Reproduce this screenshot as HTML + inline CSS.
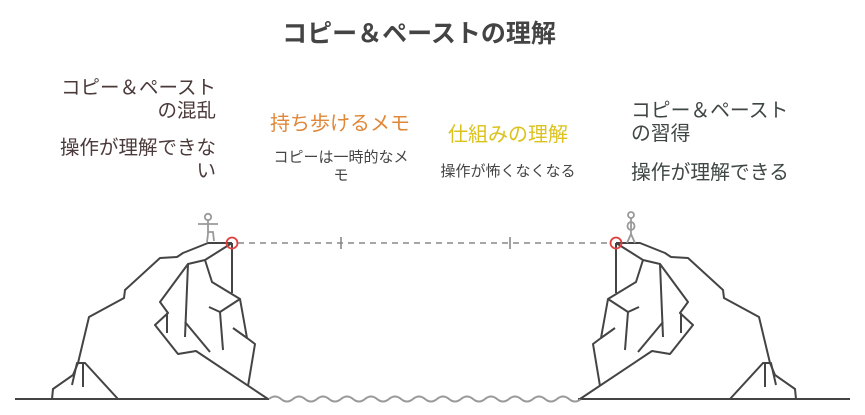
<!DOCTYPE html>
<html><head><meta charset="utf-8"><style>
html,body{margin:0;padding:0;background:#fff;}
svg{display:block;}
text{font-family:"Liberation Sans","Noto Sans CJK JP",sans-serif;}
</style></head><body>
<svg width="865" height="415" viewBox="0 0 865 415" xmlns="http://www.w3.org/2000/svg">
<text x="419" y="42" text-anchor="middle" font-size="25" font-weight="bold" fill="#444">コピー＆ペーストの理解</text>

<g font-size="19.5" fill="#4b3a3a" text-anchor="end">
<text x="216" y="94">コピー＆ペースト</text>
<text x="216" y="117">の混乱</text>
<text x="216" y="154">操作が理解できな</text>
<text x="216" y="177">い</text>
</g>
<text x="340" y="130" text-anchor="middle" font-size="20" fill="#e0883a">持ち歩けるメモ</text>
<g font-size="15" fill="#444" text-anchor="middle">
<text x="341" y="162">コピーは一時的なメ</text>
<text x="341" y="180">モ</text>
<text x="508" y="176">操作が怖くなくなる</text>
</g>
<text x="508" y="141" text-anchor="middle" font-size="20" fill="#dcc21c">仕組みの理解</text>
<g font-size="19.8" fill="#3e4744">
<text x="631" y="117">コピー＆ペースト</text>
<text x="631" y="140">の習得</text>
<text x="631" y="179">操作が理解できる</text>
</g>

<g stroke="#444" stroke-width="2" fill="none">
<line x1="15" y1="399" x2="269" y2="399"/>
<line x1="578" y1="399" x2="850" y2="399"/>
</g>
<path d="M269 399 q6 -5 12 0 t12 0 t12 0 t12 0 t12 0 t12 0 t12 0 t12 0 t12 0 t12 0 t12 0 t12 0 t12 0 t12 0 t12 0 t12 0 t12 0 t12 0 t12 0 t12 0 t12 0 t12 0 t12 0 t12 0 t12 0 t12 0" stroke="#999" stroke-width="2" fill="none"/>

<line x1="238" y1="243" x2="610" y2="243" stroke="#888" stroke-width="1.6" stroke-dasharray="6,5"/>
<line x1="341" y1="237" x2="341" y2="249" stroke="#888" stroke-width="1.6"/>
<line x1="510" y1="237" x2="510" y2="249" stroke="#888" stroke-width="1.6"/>

<g id="cliff" stroke="#444" stroke-width="2" fill="none" stroke-linejoin="round">
<polyline points="52,399 53,389 73,375 78,363 89,317 124,298 125,290 160,258 177,257 183,253 208,243 232,243"/>
<polyline points="72,385 77,363 85,363 118,399"/>
<line x1="83" y1="363" x2="83" y2="387"/>
<polyline points="232,243 205,260 188,264 160,302 168,313 155,325 178,354 196,351 268,399"/>
<line x1="188" y1="264" x2="185" y2="337"/>
<line x1="167" y1="313" x2="167" y2="333"/>
<line x1="185" y1="322" x2="210" y2="352"/>
<polyline points="205,260 212,282 240,299 247,338 255,344 248,386"/>
<line x1="232" y1="243" x2="232" y2="293"/>
<polyline points="240,299 220,312 223,350"/>
<line x1="209" y1="307" x2="220" y2="312"/>
<line x1="233" y1="328" x2="247" y2="338"/>
</g>
<use href="#cliff" transform="translate(848,0) scale(-1,1)"/>

<circle cx="232" cy="243" r="5.5" stroke="#e04040" stroke-width="1.8" fill="none"/>
<circle cx="616" cy="243" r="5.5" stroke="#e04040" stroke-width="1.8" fill="none"/>

<g stroke="#999" stroke-width="1.8" fill="none">
<circle cx="208" cy="217" r="3.2"/>
<line x1="208" y1="220" x2="208" y2="234"/>
<line x1="198" y1="224" x2="218" y2="224"/>
<polyline points="208,234 207,242"/>
<polyline points="208,232 213,232 214,241"/>
</g>
<g stroke="#999" stroke-width="1.8" fill="none">
<circle cx="631" cy="215" r="3"/>
<ellipse cx="631" cy="226" rx="3.5" ry="4"/>
<line x1="631" y1="218" x2="631" y2="236"/>
<polyline points="627,243 631,234 635,243"/>
</g>
</svg>
</body></html>
